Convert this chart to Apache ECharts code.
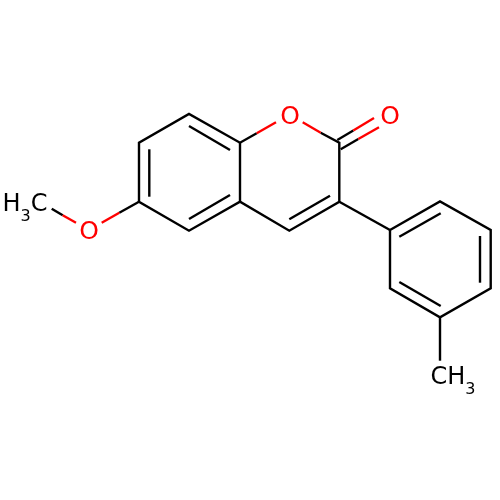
<!DOCTYPE html>
<html><head><meta charset="utf-8">
<style>html,body{margin:0;padding:0;background:#fff}#c{width:500px;height:500px}</style>
<script src="https://cdn.jsdelivr.net/npm/echarts@6/dist/echarts.min.js"></script>
</head><body><div id="c"></div>
<script>
// Bond paths in drawing units (x, y with y pointing down)
const blackBonds = [
  [[256.7,133.3],[240,142.7],[189,114],[139,142.7],[139,201.7],[189,230.7],[240,201.7],[289.3,230.7],[339.3,201.7],[339.3,142.7],[320.7,132.7]],
  [[240,142.7],[240,201.7]],
  [[149.3,149.3],[149.3,196.7]],
  [[189,126],[230,150]],
  [[189,219],[230,195]],
  [[289.3,219.3],[330,195.7]],
  [[337.3,140],[353.3,130.5]],
  [[340.7,149.3],[358.3,139]],
  [[139,201.7],[119.3,212.7]],
  [[62.7,215.3],[51.7,208.7]],
  [[339.3,201.7],[390,230]],
  [[390,230],[440,201.5],[490.7,230],[490.7,288.3],[440,317.3],[390,288.3],[390,230]],
  [[399.3,236.7],[440.7,213.3]],
  [[480,236],[480,282.7]],
  [[399.3,282],[440.7,306]],
  [[440,317.3],[440,360.7]]
];
const redBonds = [
  [[256.7,133.3],[276,122.3]],
  [[302.7,122.3],[320.7,132.7]],
  [[353.3,130.5],[374,118]],
  [[358.3,139],[379,127.3]],
  [[119.3,212.7],[101.7,222.7]],
  [[76,222.7],[62.7,215.3]]
];
const redAtoms = [
  {value:[290,117], text:'O'},
  {value:[390,117], text:'O'},
  {value:[89,232.5], text:'O'}
];
const blackAtoms = [
  {value:[25,210], text:'{a|H}{b|3}{a|C}'},
  {value:[453,383], text:'{a|CH}{b|3}'}
];
const rich = {
  a:{fontFamily:'DejaVu Sans',fontSize:24,color:'#000',lineHeight:30,verticalAlign:'bottom',padding:[0,0,8,0],textBorderWidth:0},
  b:{fontFamily:'DejaVu Sans',fontSize:16,color:'#000',lineHeight:30,verticalAlign:'bottom',textBorderWidth:0}
};
const bondSeries = (data,color)=>({
  type:'lines',coordinateSystem:'cartesian2d',polyline:true,silent:true,
  lineStyle:{color,width:2.4,opacity:1,curveness:0,join:'miter',cap:'butt'},
  data:data.map(coords=>({coords}))
});
const atomSeries = (data,color,fontSize)=>({
  type:'scatter',symbolSize:0,silent:true,data,
  itemStyle:{opacity:1},
  label:{show:true,position:'inside',fontFamily:'DejaVu Sans',fontSize,color,rich,opacity:1,
    textBorderWidth:0,textShadowBlur:0,formatter:p=>p.data.text}
});
const chart = echarts.init(document.getElementById('c'));
chart.setOption({
  animation:false,backgroundColor:'#fff',
  grid:{left:0,right:0,top:0,bottom:0},
  xAxis:{type:'value',min:0,max:500,show:false},
  yAxis:{type:'value',min:0,max:500,inverse:true,show:false},
  series:[bondSeries(blackBonds,'#000'),bondSeries(redBonds,'#f00'),
    atomSeries(redAtoms,'#f00',25),atomSeries(blackAtoms,'#000',24)]
});
</script></body></html>
